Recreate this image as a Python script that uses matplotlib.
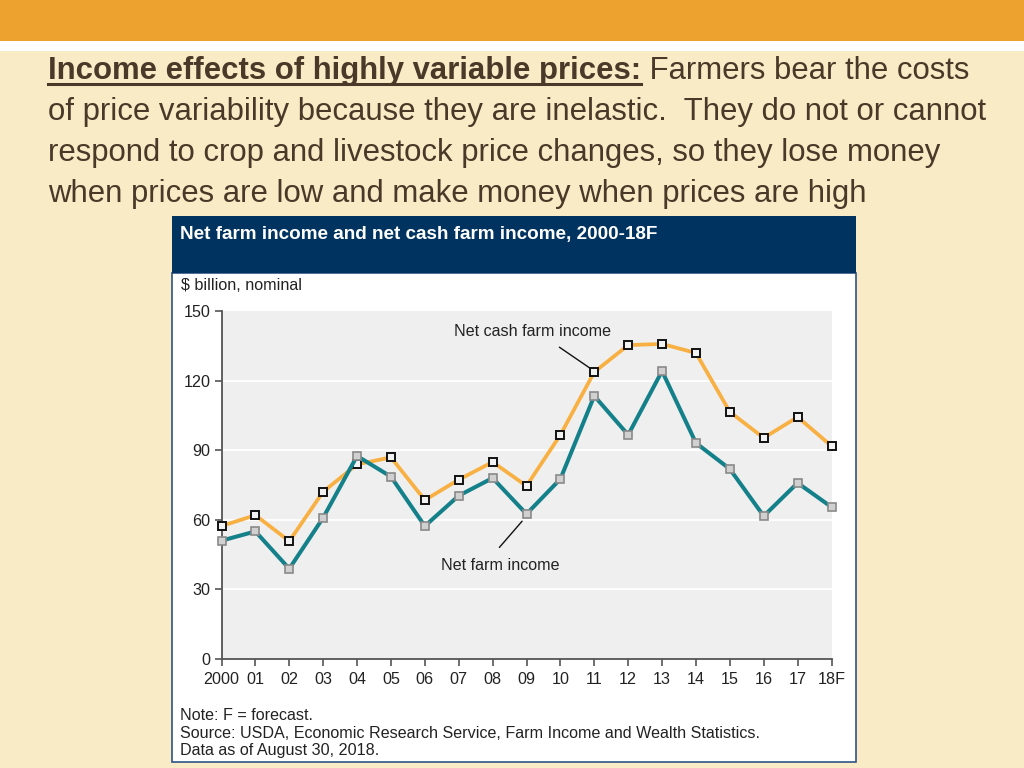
import matplotlib
matplotlib.use("Agg")
import matplotlib.pyplot as plt
from matplotlib.patches import Rectangle
from matplotlib.lines import Line2D

# ---------------- data ----------------
years = ["2000", "01", "02", "03", "04", "05", "06", "07", "08", "09",
         "10", "11", "12", "13", "14", "15", "16", "17", "18F"]
net_cash_farm_income = [57.3, 62.0, 50.8, 72.1, 83.9, 86.9, 68.5, 77.3, 84.9, 74.6,
                        96.6, 123.7, 135.3, 135.8, 131.9, 106.5, 95.3, 104.3, 91.8]
net_farm_income = [51.0, 55.0, 38.9, 60.9, 87.5, 78.6, 57.3, 70.4, 78.0, 62.5,
                   77.6, 113.4, 96.6, 124.1, 93.1, 81.9, 61.6, 75.9, 65.5]
y_ticks = [0, 30, 60, 90, 120, 150]

slide_bold = "Income effects of highly variable prices:"
slide_line1_rest = " Farmers bear the costs"
slide_lines = ["of price variability because they are inelastic.  They do not or cannot",
               "respond to crop and livestock price changes, so they lose money",
               "when prices are low and make money when prices are high"]
chart_title = "Net farm income and net cash farm income, 2000-18F"
unit_label = "$ billion, nominal"
notes = ["Note: F = forecast.",
         "Source: USDA, Economic Research Service, Farm Income and Wealth Statistics.",
         "Data as of August 30, 2018."]

# ---------------- figure ----------------
W, H = 1024, 768
fig = plt.figure(figsize=(W / 100, H / 100), dpi=100)
fig.patch.set_facecolor("#F9EBC6")

def fx(px):
    return px / W

def fy(py):
    return 1 - py / H

def rect(x0, y0, x1, y1, **kw):
    fig.patches.append(Rectangle((fx(x0), fy(y1)), fx(x1) - fx(x0), fy(y0) - fy(y1),
                                 transform=fig.transFigure, zorder=-5, **kw))

# top bands
rect(0, 0, W, 41, facecolor="#EDA22F", edgecolor="none")
rect(0, 41, W, 51, facecolor="#FFFFFF", edgecolor="none")

# slide title
tfam = ["Liberation Sans Narrow", "Liberation Sans", "DejaVu Sans"]
tcol = "#4A3828"
tsize = 22.4
bold_t = fig.text(fx(48), fy(79), slide_bold, fontsize=tsize, fontweight="bold",
                  family=tfam, color=tcol, va="baseline", ha="left")
fig.canvas.draw()
r = fig.canvas.get_renderer()
bb = bold_t.get_window_extent(renderer=r)
fig.text(bb.x1 / W, fy(79), slide_line1_rest, fontsize=tsize, family=tfam,
         color=tcol, va="baseline", ha="left")
fig.lines.append(Line2D([bb.x0 / W, bb.x1 / W], [fy(84), fy(84)], transform=fig.transFigure,
                        color=tcol, linewidth=2.2))
for i, line in enumerate(slide_lines):
    fig.text(fx(48), fy(120 + 41 * i), line, fontsize=tsize, family=tfam,
             color=tcol, va="baseline", ha="left")

# chart panel
rect(172, 273, 856, 762, facecolor="#FFFFFF", edgecolor="#2E5386", linewidth=1.2)
rect(172, 216, 856, 273, facecolor="#00335F", edgecolor="none")

cfam = ["Liberation Sans", "DejaVu Sans"]
fs = 11.6
fig.text(fx(180), fy(234), chart_title, fontsize=13.6, fontweight="bold", color="white",
         family=cfam, va="center", ha="left")
fig.text(fx(181), fy(286), unit_label, fontsize=fs, color="#222222",
         family=cfam, va="center", ha="left")
for i, n in enumerate(notes):
    fig.text(fx(180), fy(716 + 17.5 * i), n, fontsize=fs, color="#222222",
             family=cfam, va="center", ha="left")

# plot axes
ax = fig.add_axes([fx(221.5), fy(659), fx(831.5) - fx(221.5), (659 - 311) / H])
ax.set_zorder(5)
ax.set_facecolor("#EFEFEF")
x = list(range(len(years)))
ax.set_xlim(0, len(years) - 1)
ax.set_ylim(0, 150)
for v in y_ticks[1:-1]:
    ax.axhline(v, color="white", linewidth=1.3, zorder=1)

ax.plot(x, net_cash_farm_income, color="#F8B043", linewidth=2.7, zorder=3,
        marker="s", markersize=5.2, markerfacecolor="#F2F2F2",
        markeredgecolor="#111111", markeredgewidth=1.4, clip_on=False)
ax.plot(x, net_farm_income, color="#14808A", linewidth=2.9, zorder=4,
        marker="s", markersize=5.2, markerfacecolor="#D0D0D0",
        markeredgecolor="#8A8A8A", markeredgewidth=1.2, clip_on=False)

ax.set_xticks(x)
ax.set_xticklabels(years)
ax.set_yticks(y_ticks)
ax.set_yticklabels([str(v) for v in y_ticks])
for s in ["top", "right"]:
    ax.spines[s].set_visible(False)
for s in ["left", "bottom"]:
    ax.spines[s].set_color("#555555")
    ax.spines[s].set_linewidth(1.3)
ax.tick_params(axis="both", direction="out", length=5, width=1.2, color="#555555",
               labelsize=fs, labelcolor="#222222")
ax.tick_params(axis="x", pad=4)
ax.tick_params(axis="y", pad=3)
for lab in ax.get_xticklabels() + ax.get_yticklabels():
    lab.set_family(cfam)

# annotations (labels and leader lines)
ax.text(9.18, 141.3, "Net cash farm income", ha="center", va="center",
        fontsize=fs, family=cfam, color="#222222")
ax.annotate("", xy=(10.88, 125.3), xytext=(9.97, 134.4),
            arrowprops=dict(arrowstyle="-", color="#111111", linewidth=1,
                            shrinkA=0, shrinkB=0))
ax.text(8.23, 40.5, "Net farm income", ha="center", va="center",
        fontsize=fs, family=cfam, color="#222222")
ax.annotate("", xy=(8.87, 59.4), xytext=(8.20, 48.1),
            arrowprops=dict(arrowstyle="-", color="#111111", linewidth=1,
                            shrinkA=0, shrinkB=0))

fig.savefig("out.png", dpi=100, facecolor=fig.get_facecolor())
